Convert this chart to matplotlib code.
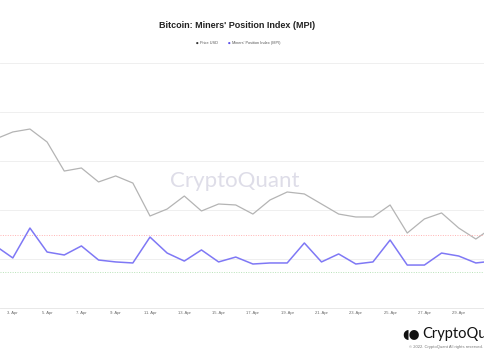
import numpy as np
import pandas as pd
import matplotlib
matplotlib.use("Agg")
from matplotlib import pyplot as plt
import matplotlib.dates as mdates

plt.rcParams['font.family'] = ['Liberation Sans', 'DejaVu Sans']

# daily values, 2 Apr 2022 .. 1 May 2022
dates = pd.date_range('2022-04-02', '2022-05-01', freq='D')
price_usd = [45800, 46370, 46610, 45550, 43180, 43430, 42290, 42780, 42200, 39510,
             40080, 41140, 39920, 40490, 40410, 39670, 40820, 41470, 41310, 40490,
             39670, 39430, 39430, 40410, 38120, 39270, 39760, 38530, 37630, 38610]
mpi = [1.26, 0.45, 2.47, 0.85, 0.65, 1.26, 0.31, 0.18, 0.11, 1.86,
       0.78, 0.24, 0.99, 0.18, 0.51, 0.04, 0.11, 0.11, 1.46, 0.18,
       0.72, 0.04, 0.18, 1.66, -0.03, -0.03, 0.78, 0.58, 0.11, 0.24]
price_grid = [36000, 40000, 44000, 48000, 52000]
mpi_high = 2.0
mpi_low = -0.5

fig = plt.figure(figsize=(4.85, 3.6), dpi=100)
ax = fig.add_axes([0, 52/360, 1, 245/360])
ax2 = ax.twinx()

x = mdates.date2num(dates)
x0 = mdates.date2num(pd.Timestamp('2022-04-03'))
ax.set_xlim(x0 - 12.8/17.15, x0 + 472.2/17.15)
ax.set_ylim(32000, 52000)
# mpi axis: 2 at y=235px, -0.5 at y=272px
k = 2.5/37
ax2.set_ylim(2 - 73*k, 2 + 172*k)

for g in price_grid:
    ax.axhline(g, color='#ececec', lw=0.6, clip_on=False, zorder=0)

ax2.axhline(mpi_high, color='#ffb3b3', lw=0.7, ls=(0, (1, 1.5)), zorder=1)
ax2.axhline(mpi_low, color='#b8e2b8', lw=0.7, ls=(0, (1, 1.5)), zorder=1)

ax.plot(x, price_usd, color='#b4b4b4', lw=0.9, zorder=2)
ax2.plot(x, mpi, color='#7f78f5', lw=1.1, zorder=3)

# labels every 2nd day, 3 Apr .. 29 Apr
ax.set_xticks(x[1:-1:2])
ax.set_xticklabels([f"{d.day}. {d:%b}" for d in dates[1:-1:2]])
ax.tick_params(axis='x', length=0, labelsize=3, labelcolor='#666666', pad=2.5)
ax.set_yticks([])
ax2.set_yticks([])
for a in (ax, ax2):
    for s in ['top', 'left', 'right']:
        a.spines[s].set_visible(False)
    a.spines['bottom'].set_color('#e8e8e8')
    a.spines['bottom'].set_linewidth(0.6)
ax.patch.set_alpha(0)

# watermark
ax.text(234.5/485, 1 - (181 - 63)/245, 'CryptoQuant', transform=ax.transAxes,
        ha='center', va='center', fontsize=16, color='#dedde8',
        family=['Lato', 'DejaVu Sans'], zorder=0)

# title and legend
fig.text(237/485, 1 - 26/360, "Bitcoin: Miners' Position Index (MPI)", ha='center', va='center',
         fontsize=6.5, fontweight='bold', color='#222222')
fig.text(197/485, 1 - 43/360, '●', ha='center', va='center', fontsize=2.2, color='#333333',
         family=['DejaVu Sans'])
fig.text(200/485, 1 - 43/360, 'Price USD', ha='left', va='center', fontsize=2.8, color='#555555')
fig.text(229/485, 1 - 43/360, '●', ha='center', va='center', fontsize=2.2, color='#5b4fe8',
         family=['DejaVu Sans'])
fig.text(232/485, 1 - 43/360, "Miners' Position Index (MPI)", ha='left', va='center',
         fontsize=2.8, color='#555555')

# logo (cut off at the right edge, as in the source image)
fig.text(411/485, 1 - 334/360, '◖●', ha='center', va='center', fontsize=9, color='#111111',
         family=['DejaVu Sans'])
fig.text(422/485, 1 - 334/360, 'CryptoQuant', ha='left', va='center', fontsize=10.5,
         color='#111111', family=['Lato', 'DejaVu Sans'])
fig.text(409/485, 1 - 347/360, '© 2022. CryptoQuant All rights reserved.', ha='left', va='center',
         fontsize=3, color='#777777')

fig.savefig('out.png', dpi=100)
